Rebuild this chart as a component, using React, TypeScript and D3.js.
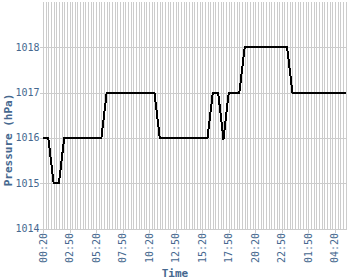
import React from "react";
import * as d3 from "d3";

// Pressure readings (hPa), one per 15-minute sample
const pressure: number[] = [
  1016, 1016, 1016, 1015.5, 1015, 1015, 1015, 1015.5,
  1016, 1016, 1016, 1016, 1016, 1016, 1016, 1016, 1016, 1016, 1016, 1016, 1016, 1016, 1016,
  1016.5,
  1017, 1017, 1017, 1017, 1017, 1017, 1017, 1017, 1017, 1017, 1017, 1017, 1017, 1017, 1017, 1017, 1017, 1017, 1017,
  1016.5,
  1016, 1016, 1016, 1016, 1016, 1016, 1016, 1016, 1016, 1016, 1016, 1016, 1016, 1016, 1016, 1016, 1016, 1016, 1016,
  1016.5,
  1017, 1017, 1017,
  1016.5, 1015.96, 1016.5,
  1017, 1017, 1017, 1017, 1017,
  1017.5,
  1018, 1018, 1018, 1018, 1018, 1018, 1018, 1018, 1018, 1018, 1018, 1018, 1018, 1018, 1018, 1018, 1018,
  1017.5,
  1017, 1017, 1017, 1017, 1017, 1017, 1017, 1017, 1017, 1017, 1017, 1017, 1017, 1017, 1017, 1017, 1017, 1017, 1017, 1017, 1017,
];

// Sample times: 15-minute steps from 00:20, with one 30-minute gap near midnight
const startMinutes = 20;
const stepMinutes = 15;
const gapAfterIndex = 93;
const gapMinutes = 30;
const times: string[] = pressure.map((_, i) => {
  let m = startMinutes + i * stepMinutes + (i > gapAfterIndex ? gapMinutes : 0);
  m = ((m % 1440) + 1440) % 1440;
  const hh = String(Math.floor(m / 60)).padStart(2, "0");
  const mm = String(m % 60).padStart(2, "0");
  return `${hh}:${mm}#${i}`;
});

const tickLabels = ["00:20", "02:50", "05:20", "07:50", "10:20", "12:50", "15:20", "17:50", "20:20", "22:50", "01:50", "04:20"];
const tickEvery = 10;
const yTicks = [1014, 1015, 1016, 1017, 1018];

const W = 350;
const H = 280;
const LEFT = 43;
const RIGHT = 345.5;
const TOP = 2;
const BOTTOM = 228.5;
const GRID = "#cccccc";
const TEXT = "#46688f";
const FONT = "'DejaVu Sans Mono', monospace";

export default function App() {
  const x = d3.scalePoint<string>().domain(times).range([LEFT, RIGHT]);
  const y = d3.scaleLinear().domain([1014, 1019]).range([BOTTOM, TOP]);
  const px = (v: number) => Math.round(v) + 0.5;

  const line = d3
    .line<number>()
    .x((_, i) => x(times[i]) as number)
    .y((d) => y(d));

  return (
    <svg
      width={W}
      height={H}
      style={{ position: "absolute", left: 0, top: 0, background: "#fff" }}
    >
      {/* vertical grid */}
      <g shapeRendering="crispEdges">
        {times.map((t) => (
          <line
            key={t}
            x1={px(x(t) as number)}
            x2={px(x(t) as number)}
            y1={TOP}
            y2={px(y(1014))}
            stroke={GRID}
            strokeWidth={1}
          />
        ))}
        {yTicks.map((v) => (
          <line
            key={v}
            x1={LEFT - 3}
            x2={RIGHT + 1}
            y1={px(y(v))}
            y2={px(y(v))}
            stroke={GRID}
            strokeWidth={1}
          />
        ))}
        {tickLabels.map((lab, k) => {
          const xv = px(x(times[k * tickEvery]) as number);
          return (
            <line key={lab + k} x1={xv} x2={xv} y1={px(y(1014))} y2={px(y(1014)) + 3} stroke={GRID} strokeWidth={1} />
          );
        })}
      </g>

      {/* data line */}
      <path
        d={line(pressure) ?? ""}
        fill="none"
        stroke="#000"
        strokeWidth={2}
        shapeRendering="crispEdges"
      />

      {/* y tick labels */}
      {yTicks.map((v) => (
        <text
          key={v}
          x={39.5}
          y={y(v)}
          dy="0.35em"
          textAnchor="end"
          fontFamily={FONT}
          fontSize={10}
          fill={TEXT}
        >
          {v}
        </text>
      ))}

      {/* x tick labels */}
      {tickLabels.map((lab, k) => {
        const xv = x(times[k * tickEvery]) as number;
        return (
          <text
            key={lab + k}
            transform={`translate(${xv},${233}) rotate(-90)`}
            dy="0.35em"
            textAnchor="end"
            fontFamily={FONT}
            fontSize={10}
            fill={TEXT}
          >
            {lab}
          </text>
        );
      })}

      {/* axis titles */}
      <text
        x={175}
        y={277}
        textAnchor="middle"
        fontFamily={FONT}
        fontSize={11}
        fontWeight="bold"
        fill={TEXT}
      >
        Time
      </text>
      <text
        transform={`translate(12,140) rotate(-90)`}
        textAnchor="middle"
        fontFamily={FONT}
        fontSize={11}
        fontWeight="bold"
        fill={TEXT}
      >
        Pressure (hPa)
      </text>
    </svg>
  );
}
